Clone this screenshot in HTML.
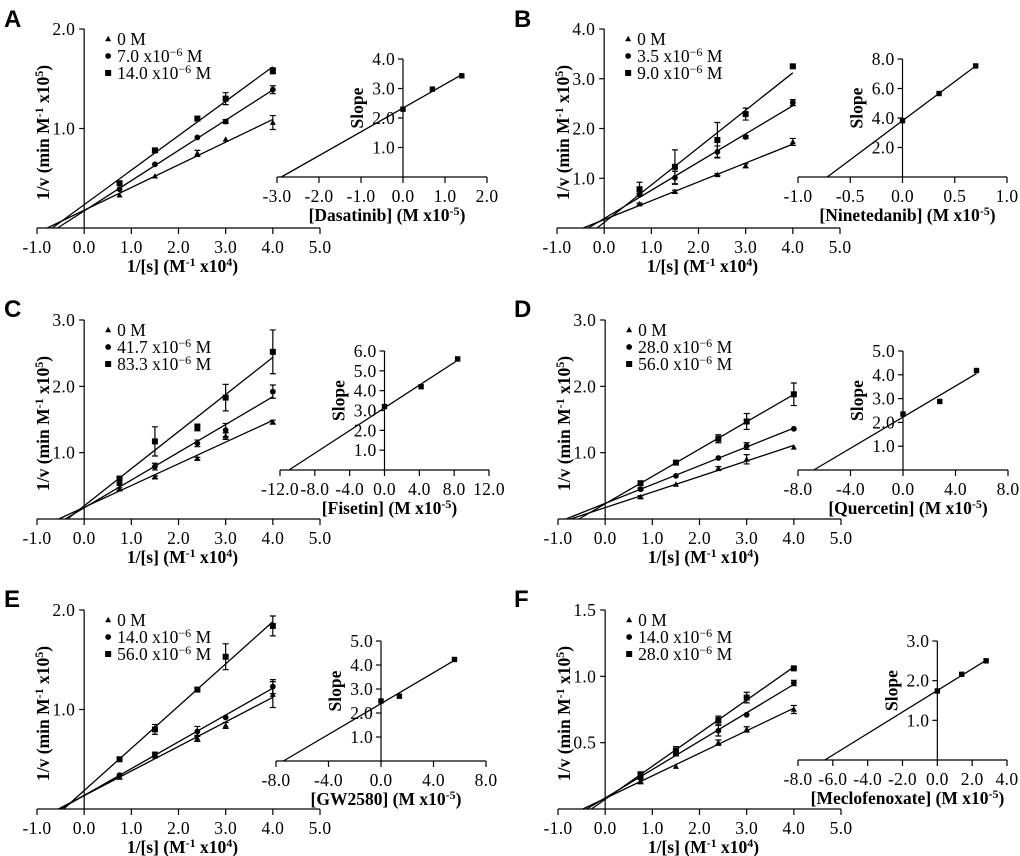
<!DOCTYPE html>
<html><head><meta charset="utf-8">
<style>
html,body{margin:0;padding:0;background:#fff;}
svg{display:block;}
text{font-family:"Liberation Serif","Times New Roman",serif;fill:#000;}
.lbl{font-family:"Liberation Sans",Arial,sans-serif;font-weight:bold;font-size:24px;}
.tk{font-size:17.5px;letter-spacing:0.3px;}
.ttl{font-size:17.5px;font-weight:bold;}
.lg{font-size:17.5px;}
</style></head>
<body>
<svg id="fig" width="1020" height="856" viewBox="0 0 1020 856" xmlns="http://www.w3.org/2000/svg"></svg>
<script>
const xs = [0.75, 1.5, 2.4, 3.0, 4.0];

const A_tri = [0.33, 0.52, 0.75, 0.89, 1.06];
const A_cir = [0.39, 0.64, 0.91, 1.07, 1.39];
const A_sq  = [0.45, 0.78, 1.10, 1.30, 1.58];
const A_triErr = [0.01, 0.01, 0.03, 0.01, 0.07];
const A_cirErr = [0.01, 0.01, 0.01, 0.02, 0.04];
const A_sqErr  = [0.01, 0.02, 0.02, 0.06, 0.03];
const A_insX = [0, 0.7, 1.4];
const A_insY = [2.3, 2.98, 3.43];

const B_tri = [0.48, 0.73, 1.07, 1.25, 1.73];
const B_cir = [0.67, 1.01, 1.53, 1.83, 2.52];
const B_sq  = [0.78, 1.23, 1.77, 2.29, 3.25];
const B_triErr = [0.02, 0.03, 0.02, 0.04, 0.07];
const B_cirErr = [0.03, 0.13, 0.12, 0.03, 0.06];
const B_sqErr  = [0.14, 0.34, 0.35, 0.12, 0.02];
const B_insX = [0, 0.35, 0.7];
const B_insY = [3.82, 5.66, 7.53];

const C_tri = [0.45, 0.63, 0.91, 1.25, 1.46];
const C_cir = [0.53, 0.79, 1.14, 1.34, 1.92];
const C_sq  = [0.61, 1.17, 1.38, 1.83, 2.52];
const C_triErr = [0.02, 0.02, 0.02, 0.05, 0.03];
const C_cirErr = [0.02, 0.05, 0.05, 0.1, 0.1];
const C_sqErr  = [0.02, 0.22, 0.05, 0.2, 0.33];
const C_insX = [0, 4.2, 8.4];
const C_insY = [3.2, 4.2, 5.6];

const D_tri = [0.33, 0.52, 0.76, 0.90, 1.08];
const D_cir = [0.45, 0.65, 0.92, 1.10, 1.36];
const D_sq  = [0.54, 0.85, 1.21, 1.47, 1.88];
const D_triErr = [0.02, 0.01, 0.03, 0.07, 0.01];
const D_cirErr = [0.02, 0.01, 0.01, 0.05, 0.01];
const D_sqErr  = [0.03, 0.02, 0.06, 0.12, 0.17];
const D_insX = [0, 2.8, 5.6];
const D_insY = [2.35, 2.88, 4.18];

const E_tri = [0.32, 0.53, 0.71, 0.84, 1.15];
const E_cir = [0.34, 0.55, 0.78, 0.92, 1.23];
const E_sq  = [0.50, 0.80, 1.20, 1.53, 1.84];
const E_triErr = [0.02, 0.01, 0.03, 0.03, 0.13];
const E_cirErr = [0.01, 0.02, 0.05, 0.01, 0.07];
const E_sqErr  = [0.01, 0.05, 0.02, 0.13, 0.1];
const E_insX = [0, 1.4, 5.6];
const E_insY = [2.5, 2.7, 4.23];

const F_tri = [0.21, 0.32, 0.50, 0.60, 0.75];
const F_cir = [0.24, 0.42, 0.59, 0.71, 0.95];
const F_sq  = [0.26, 0.44, 0.67, 0.84, 1.06];
const F_triErr = [0.02, 0.01, 0.02, 0.02, 0.03];
const F_cirErr = [0.02, 0.02, 0.04, 0.01, 0.02];
const F_sqErr  = [0.02, 0.03, 0.03, 0.04, 0.01];
const F_insX = [0, 1.4, 2.8];
const F_insY = [1.74, 2.16, 2.5];

const mainXTicks = [-1, 0, 1, 2, 3, 4, 5];
const A_yTicks = [1, 2];       const B_yTicks = [1, 2, 3, 4];
const C_yTicks = [1, 2, 3];    const D_yTicks = [1, 2, 3];
const E_yTicks = [1, 2];       const F_yTicks = [0.5, 1, 1.5];
const A_insXTicks = [-3, -2, -1, 0, 1, 2];  const A_insYTicks = [1, 2, 3, 4];
const B_insXTicks = [-1, -0.5, 0, 0.5, 1];  const B_insYTicks = [2, 4, 6, 8];
const C_insXTicks = [-12, -8, -4, 0, 4, 8, 12]; const C_insYTicks = [1, 2, 3, 4, 5, 6];
const D_insXTicks = [-8, -4, 0, 4, 8];      const D_insYTicks = [1, 2, 3, 4, 5];
const E_insXTicks = [-8, -4, 0, 4, 8];      const E_insYTicks = [1, 2, 3, 4, 5];
const F_insXTicks = [-8, -6, -4, -2, 0, 2, 4]; const F_insYTicks = [1, 2, 3];

const A_legend = ["0 M", "7.0 x10", "14.0 x10"];
const B_legend = ["0 M", "3.5 x10", "9.0 x10"];
const C_legend = ["0 M", "41.7 x10", "83.3 x10"];
const D_legend = ["0 M", "28.0 x10", "56.0 x10"];
const E_legend = ["0 M", "14.0 x10", "56.0 x10"];
const F_legend = ["0 M", "14.0 x10", "28.0 x10"];

const NS = "http://www.w3.org/2000/svg";
const svg = document.getElementById('fig');
function mk(tag, attrs, parent, txt) {
  const e = document.createElementNS(NS, tag);
  for (const k in attrs) e.setAttribute(k, attrs[k]);
  if (txt !== undefined) e.textContent = txt;
  (parent || svg).appendChild(e);
  return e;
}
function fit(x, y) {
  const n = x.length; let sx=0, sy=0, sxx=0, sxy=0;
  for (let i=0;i<n;i++){sx+=x[i];sy+=y[i];sxx+=x[i]*x[i];sxy+=x[i]*y[i];}
  const m = (n*sxy - sx*sy)/(n*sxx - sx*sx);
  return {m:m, b:(sy - m*sx)/n};
}
function marker(g, kind, x, y) {
  let e;
  if (kind === 0) e = mk('polygon', {points:`${x},${y-3.2} ${x-3},${y+2.3} ${x+3},${y+2.3}`, fill:'#000'}, g);
  else if (kind === 1) e = mk('circle', {cx:x, cy:y, r:2.9, fill:'#000'}, g);
  else e = mk('rect', {x:x-3, y:y-3, width:6, height:6, fill:'#000'}, g);
  return e;
}
function fmt(v, d) { return v.toFixed(d === undefined ? 1 : d); }

function panel(p) {
  const g = mk('g', {});
  
  
  const sx = v => p.xl + (v + 1) * (p.xr - p.xl) / 6;
  const sy = v => p.ay - v * (p.ay - p.top) / p.ymax;
  const L = mk('text', {x:p.lx, y:p.ly, class:'lbl'}, g, p.id);
  
  

  const ax = mk('g', {stroke:'#000', 'stroke-width':1.2}, g);
  
  
  mk('line', {x1:sx(-1), y1:p.ay, x2:sx(5), y2:p.ay}, ax);
  mk('line', {x1:sx(0), y1:p.ay, x2:sx(0), y2:sy(p.ymax)}, ax);
  mainXTicks.forEach(t => mk('line', {x1:sx(t), y1:p.ay, x2:sx(t), y2:p.ay+6}, ax));
  p.yTicks.forEach(t => mk('line', {x1:sx(0)-5, y1:sy(t), x2:sx(0), y2:sy(t)}, ax));
  mainXTicks.forEach(t => {
    const e = mk('text', {x:sx(t), y:p.ay+25, 'text-anchor':'middle', class:'tk'}, g, fmt(t));
    
    
  });
  p.yTicks.forEach(t => {
    const e = mk('text', {x:sx(0)-9, y:sy(t)+6, 'text-anchor':'end', class:'tk'}, g, fmt(t));
    
    
  });
  const xt = mk('text', {x:(sx(0)+sx(4))/2+4, y:p.ay+44, 'text-anchor':'middle', class:'ttl'}, g);
  
  
  mk('tspan', {}, xt, '1/[s] (M');
  mk('tspan', {dy:-6, 'font-size':12}, xt, '-1');
  mk('tspan', {dy:6}, xt, ' x10');
  mk('tspan', {dy:-6, 'font-size':12}, xt, '4');
  mk('tspan', {dy:6}, xt, ')');
  const ycx = p.xl + 12, ycy = (p.ay + p.top)/2 + 4;
  const yt = mk('text', {x:ycx, y:ycy, 'text-anchor':'middle', class:'ttl', transform:`rotate(-90 ${ycx} ${ycy})`}, g);
  
  
  mk('tspan', {}, yt, '1/v (min M');
  mk('tspan', {dy:-6, 'font-size':12}, yt, '-1');
  mk('tspan', {dy:6}, yt, ' x10');
  mk('tspan', {dy:-6, 'font-size':12}, yt, '5');
  mk('tspan', {dy:6}, yt, ')');

  p.series.forEach((s, k) => {
    const sg = mk('g', {}, g);
    
    
    const f = fit(xs, s);
    const x0 = Math.max(-f.b / f.m, -1);
    const ln = mk('line', {x1:sx(x0), y1:sy(f.m*x0+f.b), x2:sx(4), y2:sy(f.m*4+f.b), stroke:'#000', 'stroke-width':1.3}, sg);
    
    
    s.forEach((v, i) => {
      const e = p.errs[k][i];
      if (e > 0.015) {
        const eb = mk('path', {d:`M${sx(xs[i])},${sy(v-e)}V${sy(v+e)}M${sx(xs[i])-3},${sy(v-e)}h6M${sx(xs[i])-3},${sy(v+e)}h6`, stroke:'#000', 'stroke-width':1.2, fill:'none'}, sg);
        
        
      }
      const m = marker(sg, k, sx(xs[i]), sy(v));
      
      
    });
  });

  const lg = mk('g', {}, g);
  
  
  p.legend.forEach((t, k) => {
    const yy = p.top + 10 + k * 17;
    const lx = sx(0) + 24;
    marker(lg, k, lx, yy);
    const te = mk('text', {x:lx + 9, y:yy + 6, class:'lg'}, lg);
    
    
    if (k === 0) te.textContent = t;
    else {
      mk('tspan', {}, te, t);
      mk('tspan', {dy:-6, 'font-size':12}, te, '\u22126');
      mk('tspan', {dy:6}, te, ' M');
    }
  });

  const ix = v => p.il + (v - p.ixT[0]) * (p.ir - p.il) / (p.ixT[p.ixT.length-1] - p.ixT[0]);
  const iymax = p.iyT[p.iyT.length-1];
  const iy = v => p.iay - v * (p.iay - p.itop) / iymax;
  const ig = mk('g', {}, g);
  
  
  const iax = mk('g', {stroke:'#000', 'stroke-width':1.2}, ig);
  mk('line', {x1:p.il, y1:p.iay, x2:p.ir, y2:p.iay}, iax);
  mk('line', {x1:ix(0), y1:p.iay, x2:ix(0), y2:iy(iymax)}, iax);
  p.ixT.forEach(t => mk('line', {x1:ix(t), y1:p.iay, x2:ix(t), y2:p.iay+6}, iax));
  p.iyT.forEach(t => mk('line', {x1:ix(0)-5, y1:iy(t), x2:ix(0), y2:iy(t)}, iax));
  p.ixT.forEach(t => {
    const e = mk('text', {x:ix(t), y:p.iay+25, 'text-anchor':'middle', class:'tk'}, ig, fmt(t));
    
    
  });
  p.iyT.forEach(t => {
    const e = mk('text', {x:ix(0)-8, y:iy(t)+6, 'text-anchor':'end', class:'tk'}, ig, fmt(t));
    
    
  });
  const f = fit(p.insX, p.insY);
  const xi = -f.b / f.m, xe = p.insX[p.insX.length-1];
  const il = mk('line', {x1:ix(xi), y1:iy(0), x2:ix(xe), y2:iy(f.m*xe+f.b), stroke:'#000', 'stroke-width':1.3}, ig);
  
  
  p.insX.forEach((v, i) => {
    const m = mk('rect', {x:ix(v)-2.7, y:iy(p.insY[i])-2.7, width:5.4, height:5.4, fill:'#000'}, ig);
    
    
  });
  const itx = mk('text', {x:(p.il+p.ir)/2 + 5, y:p.iay+44, 'text-anchor':'middle', class:'ttl'}, ig);
  
  
  mk('tspan', {}, itx, '[' + p.drug + '] (M x10');
  mk('tspan', {dy:-6, 'font-size':12}, itx, '-5');
  mk('tspan', {dy:6}, itx, ')');
  const scx = ix(0) - 40, scy = (p.iay + p.itop)/2 - 10;
  const st = mk('text', {x:scx, y:scy, 'text-anchor':'middle', class:'ttl', transform:`rotate(-90 ${scx} ${scy})`}, ig, 'Slope');
  
  
}

panel({id:'A', lx:4, ly:27, xl:37, xr:320, ay:228, top:29, ymax:2, yTicks:A_yTicks,
  series:[A_tri,A_cir,A_sq], errs:[A_triErr,A_cirErr,A_sqErr], legend:A_legend,
  il:277, ir:487, iay:177, itop:59, ixT:A_insXTicks, iyT:A_insYTicks, insX:A_insX, insY:A_insY, drug:'Dasatinib'});
panel({id:'B', lx:514, ly:27, xl:557, xr:840, ay:228, top:29, ymax:4, yTicks:B_yTicks,
  series:[B_tri,B_cir,B_sq], errs:[B_triErr,B_cirErr,B_sqErr], legend:B_legend,
  il:798, ir:1007, iay:177, itop:59, ixT:B_insXTicks, iyT:B_insYTicks, insX:B_insX, insY:B_insY, drug:'Ninetedanib'});
panel({id:'C', lx:4, ly:317, xl:37, xr:320, ay:519, top:320, ymax:3, yTicks:C_yTicks,
  series:[C_tri,C_cir,C_sq], errs:[C_triErr,C_cirErr,C_sqErr], legend:C_legend,
  il:280, ir:489, iay:470, itop:351, ixT:C_insXTicks, iyT:C_insYTicks, insX:C_insX, insY:C_insY, drug:'Fisetin'});
panel({id:'D', lx:514, ly:317, xl:558, xr:841, ay:519, top:320, ymax:3, yTicks:D_yTicks,
  series:[D_tri,D_cir,D_sq], errs:[D_triErr,D_cirErr,D_sqErr], legend:D_legend,
  il:798, ir:1008, iay:470, itop:351, ixT:D_insXTicks, iyT:D_insYTicks, insX:D_insX, insY:D_insY, drug:'Quercetin'});
panel({id:'E', lx:4, ly:607, xl:37, xr:320, ay:809, top:610, ymax:2, yTicks:E_yTicks,
  series:[E_tri,E_cir,E_sq], errs:[E_triErr,E_cirErr,E_sqErr], legend:E_legend,
  il:276, ir:486, iay:761, itop:641, ixT:E_insXTicks, iyT:E_insYTicks, insX:E_insX, insY:E_insY, drug:'GW2580'});
panel({id:'F', lx:514, ly:607, xl:558, xr:841, ay:809, top:610, ymax:1.5, yTicks:F_yTicks,
  series:[F_tri,F_cir,F_sq], errs:[F_triErr,F_cirErr,F_sqErr], legend:F_legend,
  il:798, ir:1007, iay:760, itop:641, ixT:F_insXTicks, iyT:F_insYTicks, insX:F_insX, insY:F_insY, drug:'Meclofenoxate'});
</script>
</body></html>
